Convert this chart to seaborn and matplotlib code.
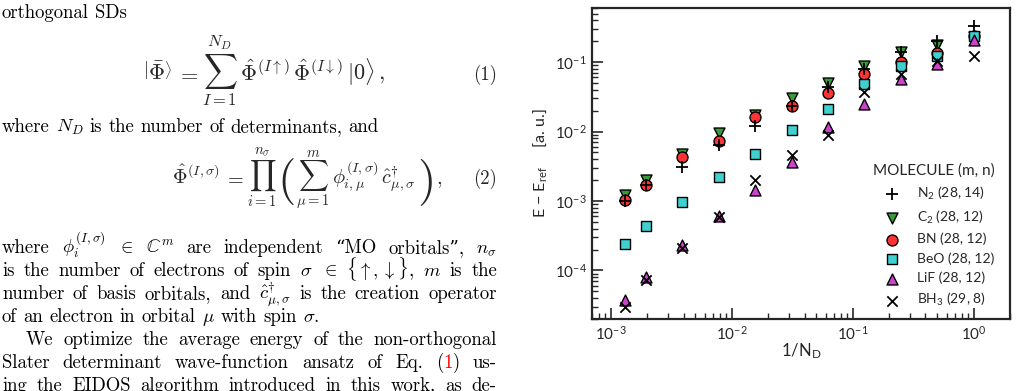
import numpy as np
import pandas as pd
import matplotlib
matplotlib.use("Agg")
import matplotlib.pyplot as plt
import seaborn as sns

# data: 1/N_D with N_D = 1 ... 768
n_det = [768, 512, 256, 128, 64, 32, 16, 8, 4, 2, 1]
err_n2 = [1.0e-3, 1.7e-3, 3.1e-3, 6.3e-3, 1.21e-2, 2.3e-2, 4.4e-2, 8.0e-2, 0.14, 0.20, 0.33]
err_c2 = [1.23e-3, 2.0e-3, 4.7e-3, 9.5e-3, 1.75e-2, 3.0e-2, 5.0e-2, 8.9e-2, 0.138, 0.178, 0.23]
err_bn = [1.03e-3, 1.69e-3, 4.3e-3, 7.4e-3, 1.61e-2, 2.3e-2, 3.54e-2, 6.8e-2, 0.099, 0.135, 0.24]
err_beo = [2.44e-4, 4.4e-4, 9.8e-4, 2.25e-3, 4.8e-3, 1.06e-2, 2.13e-2, 4.9e-2, 0.087, 0.123, 0.235]
err_lif = [3.8e-5, 8.0e-5, 2.3e-4, 6.1e-4, 1.45e-3, 3.7e-3, 1.16e-2, 2.5e-2, 0.057, 0.095, 0.21]
err_bh3 = [3.0e-5, 7.2e-5, 2.1e-4, 5.9e-4, 2.0e-3, 4.6e-3, 9.0e-3, 3.66e-2, 0.068, 0.102, 0.121]

labels = ["N$_2$ (28, 14)", "C$_2$ (28, 12)", "BN (28, 12)",
          "BeO (28, 12)", "LiF (28, 12)", "BH$_3$ (29, 8)"]
series = [err_n2, err_c2, err_bn, err_beo, err_lif, err_bh3]

rows = []
for lab, vals in zip(labels, series):
    for nd, v in zip(n_det, vals):
        rows.append({"x": 1.0 / nd, "err": v, "mol": lab})
df = pd.DataFrame(rows)

sns.set_style("ticks")
plt.rcParams["font.family"] = ["Lato", "DejaVu Sans"]
plt.rcParams["mathtext.fontset"] = "custom"
plt.rcParams["mathtext.rm"] = "Lato"
plt.rcParams["mathtext.it"] = "Lato:italic"
plt.rcParams["mathtext.bf"] = "Lato:bold"

fig = plt.figure(figsize=(10.18, 3.91), dpi=100)
ax = fig.add_axes([592 / 1018, 1 - 319 / 391, 418 / 1018, 311 / 391])

styles = {
    labels[0]: dict(marker="+", color="black", edgecolor="black", s=70, linewidth=1.3, zorder=5),
    labels[1]: dict(marker="v", color="#3a9a3a", edgecolor="black", s=62, linewidth=1.0, zorder=2),
    labels[2]: dict(marker="o", color="#ff3333", edgecolor="black", s=62, linewidth=1.0, zorder=3),
    labels[3]: dict(marker="s", color="#40d0d0", edgecolor="black", s=62, linewidth=1.0, zorder=3),
    labels[4]: dict(marker="^", color="#cc44cc", edgecolor="black", s=62, linewidth=1.0, zorder=4),
    labels[5]: dict(marker="x", color="black", edgecolor="black", s=55, linewidth=1.3, zorder=6),
}
for lab in labels:
    sub = df[df["mol"] == lab]
    sns.scatterplot(data=sub, x="x", y="err", ax=ax, label=lab, **styles[lab])

ax.set_xscale("log")
ax.set_yscale("log")
ax.set_xlim(7.0e-4, 2.0)
ax.set_ylim(2.0e-5, 0.6)
ax.set_xlabel("1/N$_\\mathrm{D}$", fontsize=12, labelpad=-1)
ax.set_ylabel("E \u2212 E$_\\mathrm{ref}$     [a. u.]", fontsize=11.5, labelpad=4)
ax.tick_params(which="major", direction="in", length=8, width=1.2, labelsize=11, pad=4)
ax.tick_params(which="minor", direction="in", length=4, width=1.0)
for sp in ax.spines.values():
    sp.set_linewidth(1.6)

leg = ax.legend(title="MOLECULE (m, n)", loc="lower right", frameon=False,
                fontsize=10, title_fontsize=11, handletextpad=0.85,
                labelspacing=0.5, borderaxespad=0.1, bbox_to_anchor=(0.98, 0.012))
leg._legend_box.align = "right"

# paper text on the left
TXT = dict(fontsize=13.5, family=["cmr10", "DejaVu Serif"], math_fontfamily="cm")
fig.canvas.draw()
renderer = fig.canvas.get_renderer()


def word_width(s, **kw):
    opts = dict(TXT)
    opts.update(kw)
    t = fig.text(0, 0, s, **opts)
    w = t.get_window_extent(renderer).width
    t.remove()
    return w


def put_line(words, y, x0=2, x1=497, justify=True):
    # words: list of lists of (text, colour) pieces
    widths = [sum(word_width(p) for p, _ in w) for w in words]
    gap = word_width("a b") - word_width("ab")
    if justify and len(words) > 1:
        gap = (x1 - x0 - sum(widths)) / (len(words) - 1)
    x = x0
    for w, ww in zip(words, widths):
        xx = x
        for p, c in w:
            fig.text(xx / 1018, 1 - y / 391, p, color=c, va="baseline", **TXT)
            xx += word_width(p)
        x += ww + gap


def put_pieces(pieces, x, y):
    # pieces: list of (text, fontsize, dy, gap_after)
    for s, fs, dy, g in pieces:
        fig.text(x / 1018, 1 - (y + dy) / 391, s, va="baseline", **dict(TXT, fontsize=fs))
        x += word_width(s, fontsize=fs) + g


def simple(s):
    return [[(tok, "black")] for tok in s.split(" ")]


put_line(simple("orthogonal SDs"), 18, justify=False)

# equation (1)
put_pieces([
    (r"$\left|\bar{\Phi}\right\rangle$", 16, 0, 5),
    (r"$=$", 16, 0, 3),
    (r"$\sum_{I=1}^{N_D}$", 17, 0, 2),
    (r"$\hat{\Phi}^{(I\uparrow)}$", 16, 0, 4),
    (r"$\hat{\Phi}^{(I\downarrow)}$", 16, 0, 4),
    (r"$|0\rangle\,,$", 16, 0, 0),
], 143, 80)
fig.text(497 / 1018, 1 - 80 / 391, "(1)", ha="right", va="baseline", **TXT)

put_line(simple("where $N_D$ is the number of determinants, and"), 132, justify=False)

# equation (2)
put_pieces([
    (r"$\hat{\Phi}^{(I,\sigma)}$", 14.5, 0, 4),
    (r"$=$", 14.5, 0, 3),
    (r"$\prod_{i=1}^{n_\sigma}$", 15, 0, 1),
    ("(", 34, 9, 0),
    (r"$\sum_{\mu=1}^{m}$", 15, 0, 3),
    (r"$\phi_{i,\mu}^{(I,\sigma)}$", 14.5, 0, 3),
    (r"$\hat{c}_{\mu,\sigma}^{\dagger}$", 14.5, 0, 1),
    (")", 34, 9, 1),
    (",", 14.5, 0, 0),
], 172, 184)
fig.text(497 / 1018, 1 - 184 / 391, "(2)", ha="right", va="baseline", **TXT)

put_line(simple("where $\\phi_i^{(I,\\sigma)}$ $\\in$ $\\mathbb{C}^m$ are independent \u201cMO orbitals\u201d, $n_\\sigma$"), 253)
put_line(simple(r"is the number of electrons of spin $\sigma$ $\in$ $\{\uparrow,\downarrow\}$, $m$ is the"), 276)
put_line(simple(r"number of basis orbitals, and $\hat{c}_{\mu,\sigma}^{\dagger}$ is the creation operator"), 299)
put_line(simple(r"of an electron in orbital $\mu$ with spin $\sigma$."), 322, justify=False)
put_line(simple("We optimize the average energy of the non-orthogonal"), 345, x0=26)
words = simple("Slater determinant wave-function ansatz of Eq.")
words.append([("(", "black"), ("1", "red"), (")", "black")])
words.append([("us-", "black")])
put_line(words, 368)
put_line(simple("ing the EIDOS algorithm introduced in this work, as de-"), 391)

fig.savefig("out.png", dpi=100)
